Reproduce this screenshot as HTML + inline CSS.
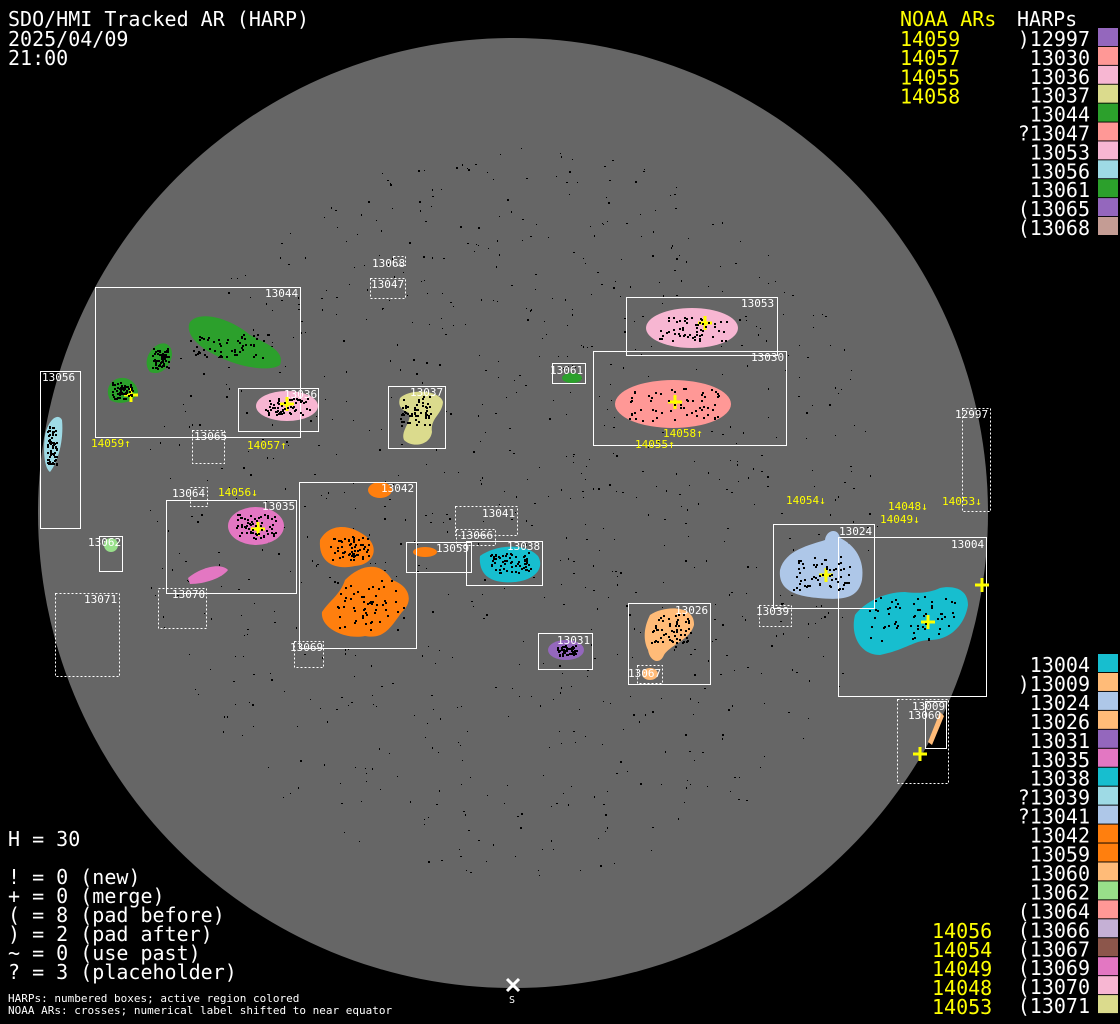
<!DOCTYPE html>
<html><head><meta charset="utf-8"><style>
html,body{margin:0;padding:0;background:#000;width:1120px;height:1024px;overflow:hidden}
svg{display:block}
text{font-family:"DejaVu Sans Mono","Liberation Mono",monospace}
</style></head><body>
<svg id="s" width="1120" height="1024" viewBox="0 0 1120 1024" xmlns="http://www.w3.org/2000/svg">
<rect width="1120" height="1024" fill="#000"/>
<circle cx="513" cy="513" r="475" fill="#666"/>
<g id="dots" fill="#000"></g>

<!-- blobs -->
<g stroke="none">
<path d="M190,322 C200,310 230,318 250,335 C270,345 285,352 280,365 C270,372 240,368 215,355 C195,345 185,332 190,322Z" fill="#2ca02c"/>
<path d="M150,352 C158,340 172,340 172,355 C170,368 160,376 150,372 C145,366 146,358 150,352Z" fill="#2ca02c"/>
<path d="M112,382 C120,374 136,378 138,392 C135,402 120,406 110,400 C106,392 108,386 112,382Z" fill="#2ca02c"/>
<ellipse cx="287" cy="406" rx="31" ry="15" fill="#f7b6d2"/>
<path d="M45,435 C48,420 58,412 62,420 C64,440 58,462 50,472 C44,468 43,450 45,435Z" fill="#9edae5"/>
<path d="M400,398 C410,388 440,390 443,402 C442,415 430,418 432,432 C430,446 412,448 404,440 C400,430 414,420 408,412 C400,410 398,404 400,398Z" fill="#dbdb8d"/>
<ellipse cx="572" cy="378" rx="10" ry="5" fill="#2ca02c"/>
<ellipse cx="692" cy="328" rx="46" ry="20" fill="#f7b6d2"/>
<ellipse cx="673" cy="404" rx="58" ry="24" fill="#ff9896"/>
<ellipse cx="256" cy="526" rx="28" ry="19" fill="#e377c2"/>
<path d="M188,578 C200,568 220,562 228,570 C222,578 205,584 190,584Z" fill="#e377c2"/>
<circle cx="111" cy="545" r="7" fill="#98df8a"/>
<ellipse cx="380" cy="490" rx="12" ry="8" fill="#ff7f0e"/>
<path d="M320,540 C330,522 352,524 368,538 C380,550 372,565 355,566 C338,570 318,565 320,540Z" fill="#ff7f0e"/>
<path d="M345,580 C360,565 380,560 392,580 C408,585 415,600 402,612 C392,625 385,640 365,636 C345,640 320,628 322,612 C330,600 340,595 345,580Z" fill="#ff7f0e"/>
<ellipse cx="425" cy="552" rx="12" ry="5" fill="#ff7f0e"/>
<path d="M480,556 C495,545 525,542 538,556 C545,568 535,580 515,582 C495,584 478,578 480,556Z" fill="#17becf"/>
<ellipse cx="566" cy="650" rx="18" ry="10" fill="#9467bd"/>
<path d="M650,615 C665,605 695,605 694,625 C690,640 670,645 664,655 C660,665 650,662 648,650 C642,638 645,625 650,615Z" fill="#ffbb78"/>
<ellipse cx="650" cy="674" rx="8" ry="6" fill="#ffbb78"/>
<path d="M780,570 C785,550 810,545 825,540 C826,530 838,527 840,538 C855,545 865,560 862,580 C858,600 840,600 818,598 C795,596 778,590 780,570Z" fill="#aec7e8"/>
<path d="M855,615 C865,602 885,592 905,592 C920,594 932,592 940,588 C955,585 968,590 968,605 C965,625 950,640 930,640 C915,640 905,650 880,655 C860,655 850,635 855,615Z" fill="#17becf"/>
<path d="M928,742 L940,712 L944,716 L932,745Z" fill="#ffbb78"/>
</g>

<!-- boxes -->
<g fill="none" stroke="#fff" stroke-width="1">
<rect x="95.5" y="287.5" width="205" height="150"/>
<rect x="40.5" y="371.5" width="40" height="157"/>
<rect x="238.5" y="388.5" width="80" height="43"/>
<rect x="388.5" y="386.5" width="57" height="62"/>
<rect x="552.5" y="363.5" width="33" height="20"/>
<rect x="626.5" y="297.5" width="151" height="58"/>
<rect x="593.5" y="351.5" width="193" height="94"/>
<rect x="166.5" y="500.5" width="130" height="93"/>
<rect x="99.5" y="536.5" width="23" height="35"/>
<rect x="299.5" y="482.5" width="117" height="166"/>
<rect x="406.5" y="542.5" width="65" height="30"/>
<rect x="466.5" y="541.5" width="76" height="44"/>
<rect x="538.5" y="633.5" width="54" height="36"/>
<rect x="628.5" y="603.5" width="82" height="81"/>
<rect x="773.5" y="524.5" width="101" height="84"/>
<rect x="838.5" y="537.5" width="148" height="159"/>
<rect x="925.5" y="701.5" width="21" height="47"/>
</g>
<g fill="none" stroke="#fff" stroke-width="1" stroke-dasharray="2,2">
<rect x="192.5" y="430.5" width="32" height="33"/>
<rect x="370.5" y="278.5" width="35" height="20"/>
<rect x="393.5" y="256.5" width="12" height="9"/>
<rect x="962.5" y="408.5" width="28" height="103"/>
<rect x="190.5" y="487.5" width="17" height="19"/>
<rect x="55.5" y="593.5" width="64" height="83"/>
<rect x="158.5" y="588.5" width="48" height="40"/>
<rect x="294.5" y="641.5" width="29" height="26"/>
<rect x="455.5" y="506.5" width="62" height="29"/>
<rect x="456.5" y="529.5" width="39" height="16"/>
<rect x="637.5" y="665.5" width="25" height="18"/>
<rect x="759.5" y="605.5" width="32" height="21"/>
<rect x="897.5" y="699.5" width="51" height="84"/>
</g>

<!-- box labels -->
<g fill="#fff" font-size="11">
<text x="265" y="297">13044</text><text x="42" y="381">13056</text><text x="284" y="398">13036</text>
<text x="194" y="440">13065</text><text x="410" y="396">13037</text><text x="371" y="288">13047</text>
<text x="372" y="267">13068</text><text x="550" y="374">13061</text><text x="741" y="307">13053</text>
<text x="751" y="361">13030</text><text x="955" y="418">12997</text><text x="172" y="497">13064</text>
<text x="262" y="510">13035</text><text x="88" y="546">13062</text><text x="84" y="603">13071</text>
<text x="172" y="598">13070</text><text x="381" y="492">13042</text><text x="290" y="651">13069</text>
<text x="482" y="517">13041</text><text x="460" y="539">13066</text><text x="436" y="552">13059</text>
<text x="507" y="550">13038</text><text x="557" y="644">13031</text><text x="675" y="614">13026</text>
<text x="628" y="677">13067</text><text x="839" y="535">13024</text><text x="756" y="615">13039</text>
<text x="951" y="548">13004</text><text x="912" y="710">13009</text><text x="908" y="719">13060</text>
</g>

<!-- yellow labels -->
<g fill="#ff0" font-size="11">
<text x="91" y="447">14059↑</text><text x="247" y="449">14057↑</text><text x="218" y="496">14056↓</text>
<text x="663" y="437">14058↑</text><text x="635" y="448">14055↑</text><text x="786" y="504">14054↓</text>
<text x="888" y="510">14048↓</text><text x="880" y="523">14049↓</text><text x="942" y="505">14053↓</text>
</g>
<g id="crosses" stroke="#ff0" stroke-width="3"></g>

<!-- S marker -->
<g stroke="#fff" stroke-width="3"><line x1="507" y1="979" x2="519" y2="991"/><line x1="519" y1="979" x2="507" y2="991"/></g>
<text x="509" y="1003" fill="#fff" font-size="10">S</text>

<!-- header -->
<g fill="#fff" font-size="20">
<text x="8" y="26">SDO/HMI Tracked AR (HARP)</text>
<text x="8" y="46">2025/04/09</text>
<text x="8" y="65">21:00</text>
<text x="8" y="846">H = 30</text>
<text x="8" y="884">! = 0 (new)</text>
<text x="8" y="903">+ = 0 (merge)</text>
<text x="8" y="922">( = 8 (pad before)</text>
<text x="8" y="941">) = 2 (pad after)</text>
<text x="8" y="960">~ = 0 (use past)</text>
<text x="8" y="979">? = 3 (placeholder)</text>
</g>
<g fill="#fff" font-size="11">
<text x="8" y="1002">HARPs: numbered boxes; active region colored</text>
<text x="8" y="1014">NOAA ARs: crosses; numerical label shifted to near equator</text>
</g>
<text x="900" y="26" fill="#ff0" font-size="20">NOAA ARs</text>
<text x="1017" y="26" fill="#fff" font-size="20">HARPs</text>
<g id="leg"></g>
</svg>
<script>
var ns="http://www.w3.org/2000/svg";
function el(t,a,p){var e=document.createElementNS(ns,t);for(var k in a)e.setAttribute(k,a[k]);(p||document.getElementById('s')).appendChild(e);return e;}
var seed=7;function r(){seed=(seed*16807)%2147483647;return seed/2147483647;}
var d=document.getElementById('dots');
for(var i=0;i<900;i++){var a=r()*6.283,rr=Math.sqrt(r())*0.78*475;var x=513+rr*Math.cos(a),y=513+rr*Math.sin(a);el('rect',{x:x.toFixed(0),y:y.toFixed(0),width:1+(r()<0.3?1:0),height:1+(r()<0.3?1:0)},d);}
[[230,345,40,12],[160,358,8,10],[122,390,10,8],[287,406,22,8],[52,445,5,20],[415,410,15,15],[692,328,35,12],[673,404,45,16],[256,526,20,12],[350,548,20,12],[368,605,35,25],[510,562,20,10],[566,650,10,5],[670,628,20,15],[820,572,30,18],[910,618,45,22]].forEach(function(b){for(var i=0;i<60;i++){el('rect',{x:(b[0]+(r()*2-1)*b[2]).toFixed(0),y:(b[1]+(r()*2-1)*b[3]).toFixed(0),width:2,height:2},d.parentNode);}});
var c=document.getElementById('crosses');
[[131,395],[287,404],[258,529],[675,402],[705,323],[826,575],[928,622],[982,585],[920,754]].forEach(function(p){el('line',{x1:p[0]-7,y1:p[1],x2:p[0]+7,y2:p[1]},c);el('line',{x1:p[0],y1:p[1]-7,x2:p[0],y2:p[1]+7},c);});
var L=document.getElementById('leg');
["14059","14057","14055","14058"].forEach(function(t,i){var e=el('text',{x:900,y:46+i*19.2,fill:'#ff0','font-size':20},L);e.textContent=t;});
function list(items,y0,dy){items.forEach(function(it,i){var y=y0+i*dy;var e=el('text',{x:1090,y:y+6,fill:'#fff','font-size':20,'text-anchor':'end'},L);e.textContent=it[0];el('rect',{x:1098,y:y-12,width:20,height:18,fill:it[1]},L);});}
list([[")12997","#9467bd"],["13030","#ff9896"],["13036","#f7b6d2"],["13037","#dbdb8d"],["13044","#2ca02c"],["?13047","#ff9896"],["13053","#f7b6d2"],["13056","#9edae5"],["13061","#2ca02c"],["(13065","#9467bd"],["(13068","#c49c94"]],40,18.9);
list([["13004","#17becf"],[")13009","#ffbb78"],["13024","#aec7e8"],["13026","#ffbb78"],["13031","#9467bd"],["13035","#e377c2"],["13038","#17becf"],["?13039","#9edae5"],["?13041","#aec7e8"],["13042","#ff7f0e"],["13059","#ff7f0e"],["13060","#ffbb78"],["13062","#98df8a"],["(13064","#ff9896"],["(13066","#c5b0d5"],["(13067","#8c564b"],["(13069","#e377c2"],["(13070","#f7b6d2"],["(13071","#dbdb8d"]],666,18.95);
["14056","14054","14049","14048","14053"].forEach(function(t,i){var e=el('text',{x:932,y:938+i*18.95,fill:'#ff0','font-size':20},L);e.textContent=t;});
</script>
</body></html>
